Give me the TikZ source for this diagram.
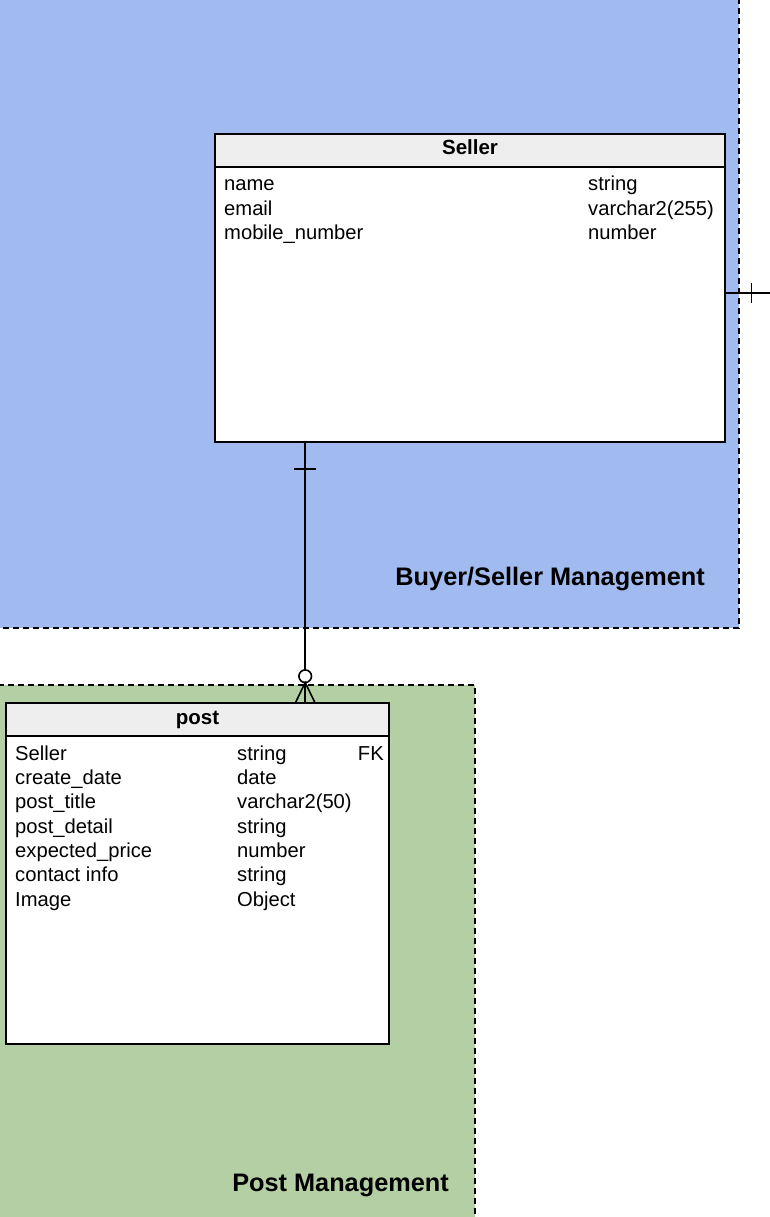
\documentclass[tikz,border=0pt]{standalone}
\usepackage{fontspec}
\setmainfont{Liberation Sans}
\usetikzlibrary{calc}
\definecolor{bsblue}{HTML}{A1BAEF}
\definecolor{pmgreen}{HTML}{B3CFA3}
\definecolor{hdgray}{HTML}{EEEEEE}
\begin{document}
\begin{tikzpicture}[x=1pt,y=-1pt,
  region/.style={line width=1.4pt, dash pattern=on 6pt off 4pt},
  tbl/.style={draw, line width=1.6pt, fill=white, inner sep=0pt},
  thead/.style={draw, line width=1.6pt, fill=hdgray, inner sep=0pt},
  htext/.style={inner sep=0pt, anchor=base, font=\fontsize{20.5}{24}\selectfont\bfseries},
  cell/.style={inner sep=0pt, anchor=base west, font=\fontsize{20.2}{24}\selectfont},
  cellr/.style={inner sep=0pt, anchor=base east, font=\fontsize{20.2}{24}\selectfont},
  title/.style={inner sep=0pt, anchor=base east, font=\fontsize{25.3}{29}\selectfont\bfseries},
  conn/.style={line width=1.6pt}
]
\useasboundingbox (0,0) rectangle (769,1217);
% regions
\fill[bsblue] (-2,-2) rectangle (739,628);
\draw[region] (739,-2) -- (739,628) -- (-2,628);
\fill[pmgreen] (-2,685) rectangle (475,1219);
\draw[region] (-2,685) -- (475,685) -- (475,1219);
\node[title] (bstitle) at (705,585) {Buyer/Seller Management};
\node[title] (pmtitle) at (449,1191) {Post Management};

% Seller table
\node[tbl, minimum width=510pt, minimum height=308pt] (seller) at (470,288) {};
\node[thead, minimum width=510pt, minimum height=33pt] (sellerhead) at (470,150.5) {};
\node[htext] (sellertitle) at (470,155) {Seller};
\node[cell] (s1n) at (224,190.5) {name};
\node[cell] (s1t) at (588,190.5) {string};
\node[cell] (s2n) at (224,215) {email};
\node[cell] (s2t) at (588,215) {varchar2(255)};
\node[cell] (s3n) at (224,239.5) {mobile\_number};
\node[cell] (s3t) at (588,239.5) {number};

% post table
\node[tbl, minimum width=383pt, minimum height=341pt] (post) at (197.5,873.5) {};
\node[thead, minimum width=383pt, minimum height=33pt] (posthead) at (197.5,719.5) {};
\node[htext] (posttitle) at (197.5,724) {post};
\node[cell] (p1n) at (15,760) {Seller};
\node[cell] (p1t) at (237,760) {string};
\node[cellr] (p1k) at (384,760) {FK};
\node[cell] (p2n) at (15,784) {create\_date};
\node[cell] (p2t) at (237,784) {date};
\node[cell] (p3n) at (15,808.5) {post\_title};
\node[cell] (p3t) at (237,808.5) {varchar2(50)};
\node[cell] (p4n) at (15,833) {post\_detail};
\node[cell] (p4t) at (237,833) {string};
\node[cell] (p5n) at (15,857) {expected\_price};
\node[cell] (p5t) at (237,857) {number};
\node[cell] (p6n) at (15,881.5) {contact info};
\node[cell] (p6t) at (237,881.5) {string};
\node[cell] (p7n) at (15,906) {Image};
\node[cell] (p7t) at (237,906) {Object};

% connector seller -> post (one to zero-or-many)
\coordinate (ca) at ($(seller.south west)+(91,0)$);
\coordinate (cb) at ($(posthead.north west)+(300,0)$);
\draw[conn] (ca) -- ($(cb)+(0,-32.5)$);
\draw[conn] ($(ca)+(-11,26)$) -- ($(ca)+(11,26)$);
\draw[conn, fill=white] ($(cb)+(0,-26)$) circle (6.3pt);
\draw[conn] ($(cb)+(0,-19.7)$) -- (cb);
\draw[conn] ($(cb)+(-9.5,0)$) -- ($(cb)+(0,-19.7)$) -- ($(cb)+(9.5,0)$);

% connector to the right (off picture)
\coordinate (rend) at (772,293);
\draw[conn] ($(seller.east)+(0,5)$) -- (rend);
\draw[conn] (751.5,283) -- (751.5,303);
\end{tikzpicture}
\end{document}
